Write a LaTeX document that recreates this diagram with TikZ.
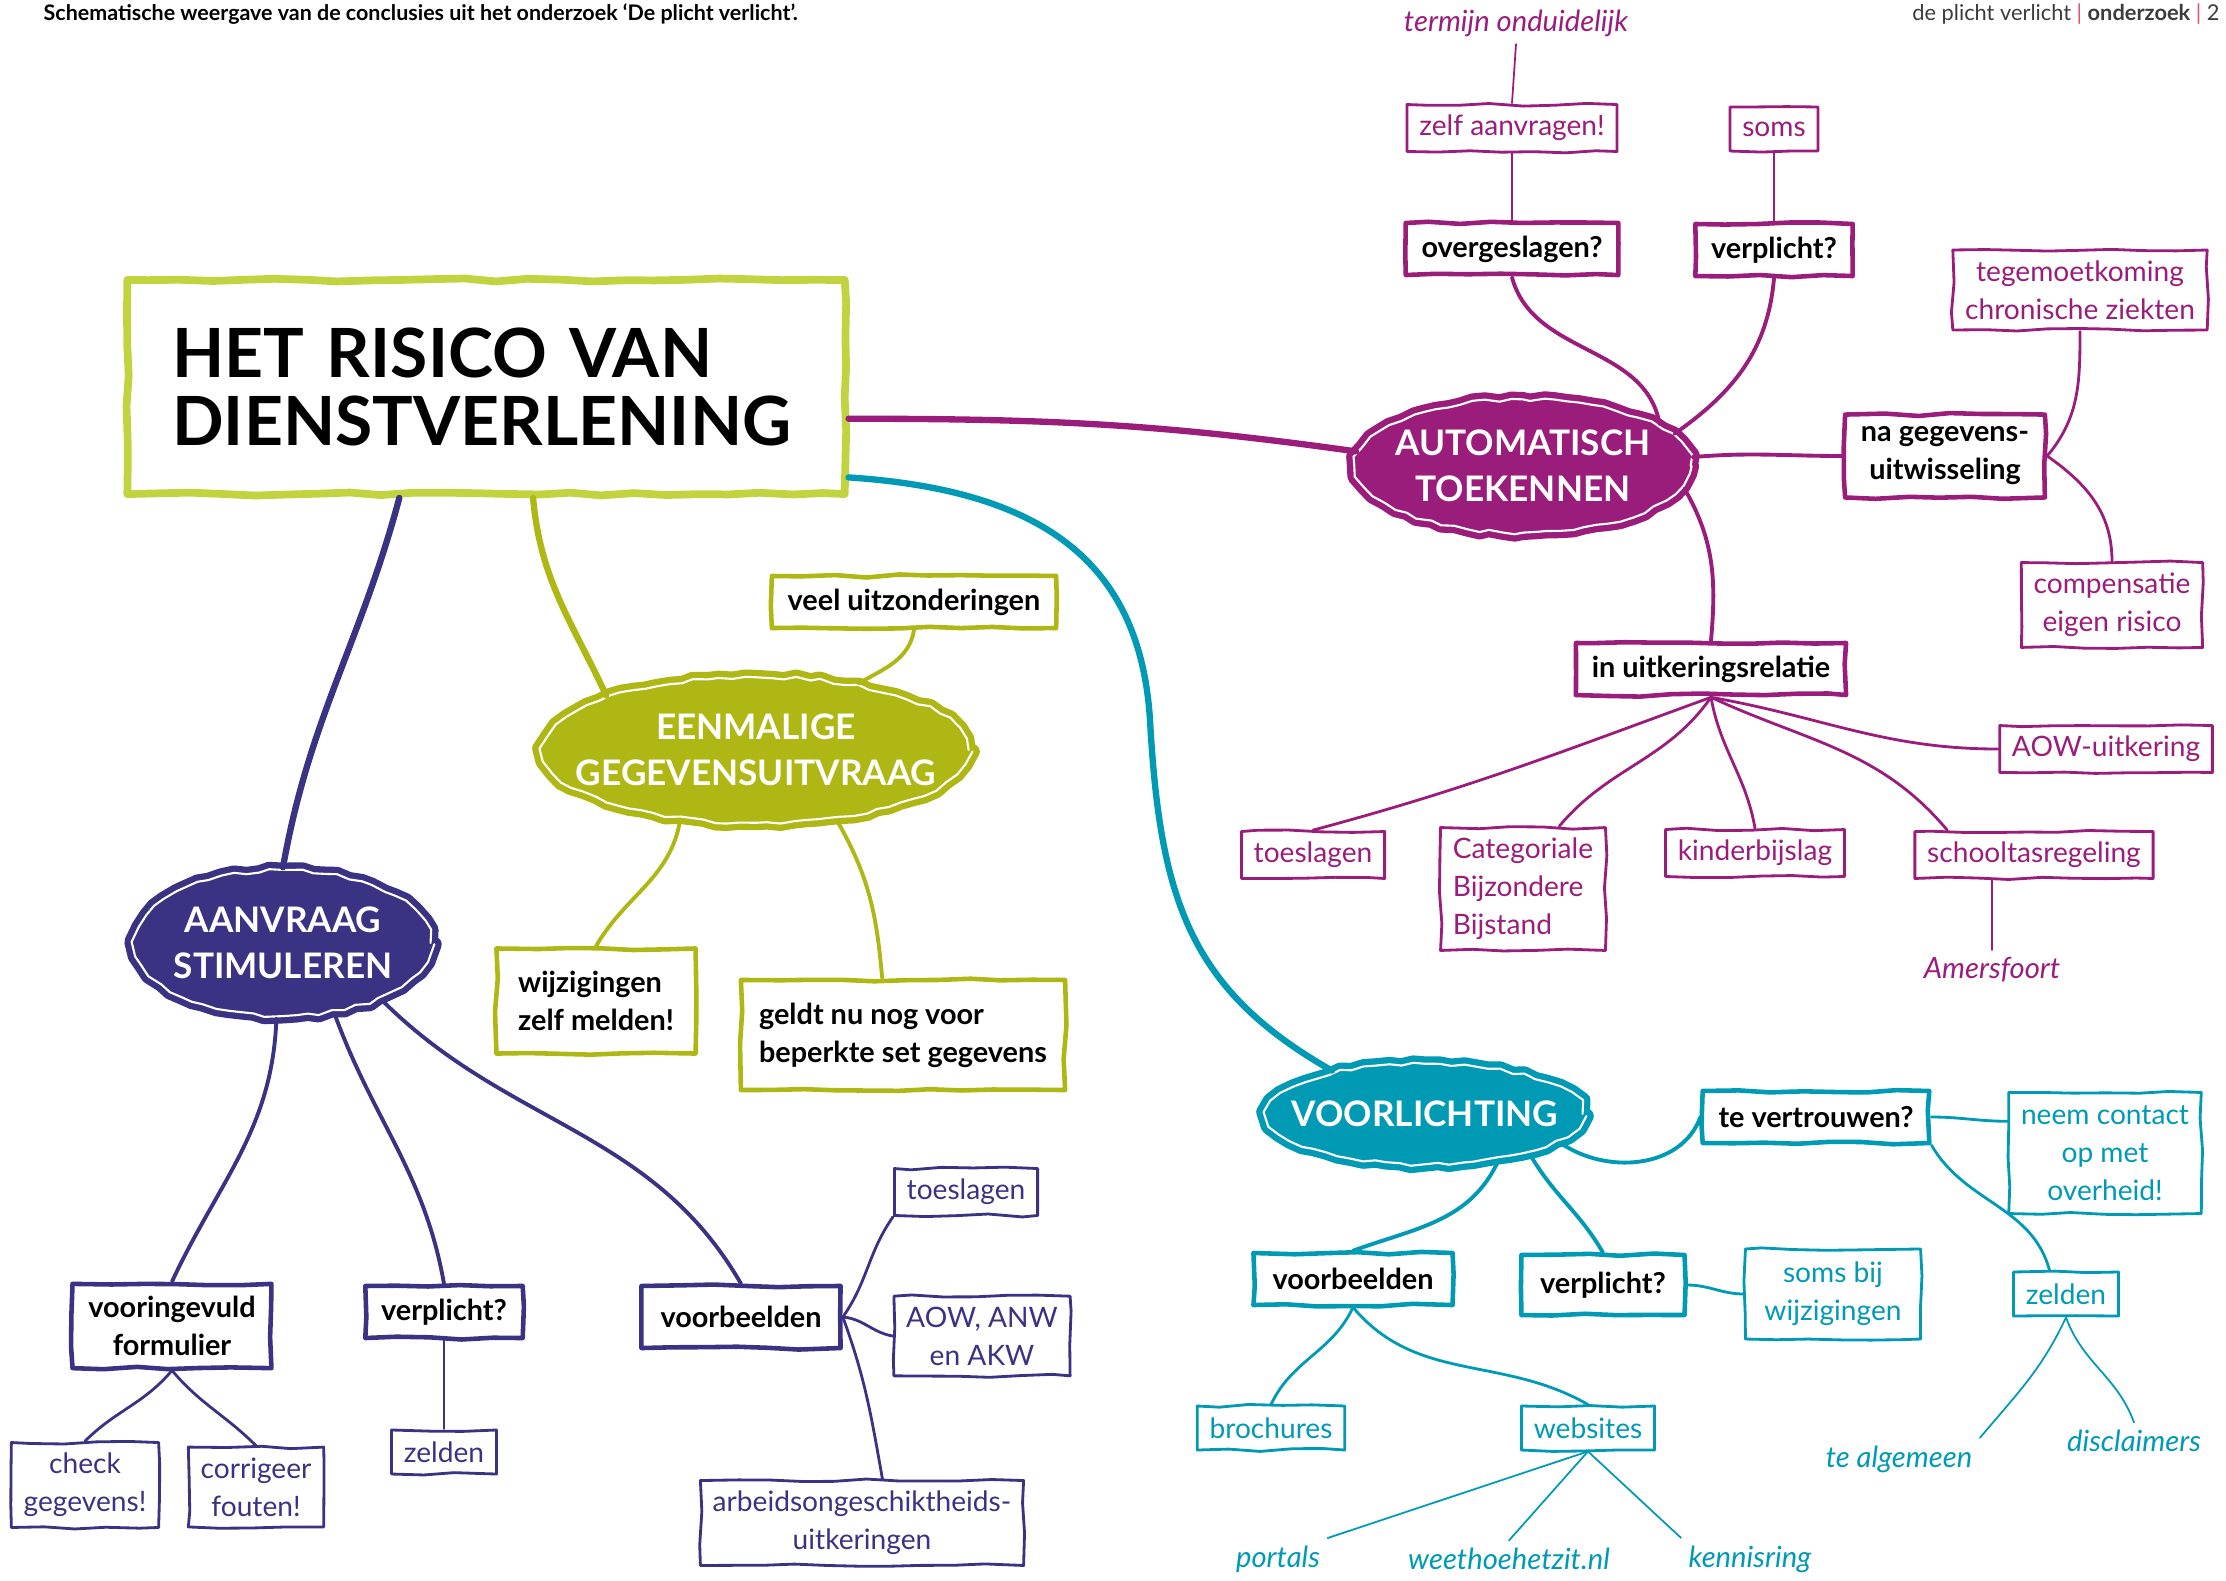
\documentclass[tikz,border=0pt]{standalone}
\usepackage{fontspec}
\setmainfont{Lato}
\usetikzlibrary{shapes.geometric, decorations.pathmorphing}

\definecolor{paars}{HTML}{9B1D7B}
\definecolor{olijf}{HTML}{AFB714}
\definecolor{limoen}{HTML}{C2D340}
\definecolor{inkt}{HTML}{3A3383}
\definecolor{petrol}{HTML}{009AB5}
\definecolor{rood}{HTML}{E0506A}
\definecolor{grijs}{HTML}{3C3C3C}

\pgfmathsetseed{12}

\begin{document}
\begin{tikzpicture}[x = 0.01 cm, y = 0.01 cm, line cap = round, line join = round,
	rough/.style = {decorate, decoration = {random steps, segment length = 9pt, amplitude = 0.45pt}},
	titlebox/.style = {draw = limoen, line width = 2.2pt, rough, text width = 6.27 cm, inner xsep = 0.45 cm, minimum height = 2.14 cm, align = left, font = \fontsize{19.3}{19.5}\selectfont\bfseries},
	blob/.style = {ellipse, fill = #1, draw = #1, line width = 1.8pt, double = white, double distance = 0.6pt, decorate, decoration = {random steps, segment length = 3.5pt, amplitude = 0.5pt}, text = white, align = center, inner sep = 0pt, font = \fontsize{10}{13}\selectfont\bfseries},
	keybox/.style = {draw = #1, line width = 1.3pt, rough, text = black, align = center, inner xsep = 4.5pt, inner ysep = 3.5pt, minimum height = 0.52 cm, font = \fontsize{8.2}{10.8}\selectfont\bfseries},
	leafbox/.style = {draw = #1, line width = 0.8pt, rough, text = #1, align = center, inner xsep = 3.5pt, inner ysep = 3pt, minimum height = 0.44 cm, font = \fontsize{8}{10.8}\selectfont},
	leaf/.style = {text = #1, inner sep = 2pt, font = \fontsize{8.3}{9}\selectfont\itshape},
	trunk/.style = {draw = #1, line width = 1.8pt},
	branch/.style = {draw = #1, line width = 1.1pt},
	twig/.style = {draw = #1, line width = 0.8pt},
	hair/.style = {draw = #1, line width = 0.5pt}]

	\useasboundingbox (0, 0) rectangle (2226, -1581);

	\node [anchor = west, inner sep = 0pt, text = black, font = \fontsize{6.1}{7}\selectfont\bfseries] (kop) at (43, -14) {Schematische weergave van de conclusies uit het onderzoek ‘De plicht verlicht’.};

	\node [anchor = east, text = grijs, font = \fontsize{6.2}{7}\selectfont] (voet) at (2232, -14) {de plicht verlicht {\color{rood}|} \textbf{onderzoek} {\color{rood}|} 2};

	\node [titlebox] (risico) at (486, -387) {HET RISICO VAN\\DIENSTVERLENING};

	\node [blob = paars, minimum width = 3.35 cm, minimum height = 1.33 cm] (auto) at (1523, -466) {\makebox[0pt]{AUTOMATISCH}\\\makebox[0pt]{TOEKENNEN}};
	\node [blob = olijf, minimum width = 4.25 cm, minimum height = 1.45 cm] (eenmalig) at (756, -750) {\makebox[0pt]{EENMALIGE}\\\makebox[0pt]{GEGEVENSUITVRAAG}};
	\node [blob = inkt, minimum width = 2.95 cm, minimum height = 1.45 cm] (aanvraag) at (283, -943) {\makebox[0pt]{AANVRAAG}\\\makebox[0pt]{STIMULEREN}};
	\node [blob = petrol, minimum width = 3.15 cm, minimum height = 1.0 cm] (voorlicht) at (1425, -1114) {\makebox[0pt]{VOORLICHTING}};

	\begin{scope}

		\node [leaf = paars] (termijn) at (1516, -23) {termijn onduidelijk};
		\node [leafbox = paars] (zelf) at (1512, -128) {zelf aanvragen!};
		\node [keybox = paars] (overgeslagen) at (1512, -249) {overgeslagen?};
		\node [leafbox = paars] (soms) at (1774, -129) {soms};
		\node [keybox = paars] (verplichtA) at (1774, -250) {verplicht?};
		\node [keybox = paars] (nagegevens) at (1945, -456) {na gegevens-\\uitwisseling};
		\node [leafbox = paars] (tegemoet) at (2080, -290) {tegemoetkoming\\chronische ziekten};
		\node [leafbox = paars] (compensatie) at (2112, -605) {compensatie\\eigen risico};
		\node [keybox = paars] (uitkering) at (1711, -669) {in uitkeringsrelatie};
		\node [leafbox = paars] (toeslagenA) at (1313, -855) {toeslagen};
		\node [leafbox = paars, align = left, minimum width = 1.63 cm] (categoriale) at (1523, -889) {Categoriale\\Bijzondere\\Bijstand};
		\node [leafbox = paars] (kinderbijslag) at (1755, -853) {kinderbijslag};
		\node [leafbox = paars] (schooltas) at (2034, -855) {schooltasregeling};
		\node [leafbox = paars] (aow) at (2106, -749) {AOW-uitkering};
		\node [leaf = paars] (amersfoort) at (1992, -970) {Amersfoort};

		\draw [trunk = paars] (risico.-5) to [out = 0, in = 172] (auto.175);
		\draw [hair = paars] (termijn.south) -- (zelf.north);
		\draw [twig = paars] (zelf.south) -- (overgeslagen.north);
		\draw [branch = paars] (overgeslagen.south) to [out = -75, in = 100] (auto.17);
		\draw [twig = paars] (soms.south) -- (verplichtA.north);
		\draw [branch = paars] (verplichtA.south) to [out = -95, in = 35] (auto.12);
		\draw [branch = paars] (auto.3) to [out = 5, in = 180] (nagegevens.west);
		\draw [twig = paars] (nagegevens.east) to [out = 50, in = -90] (tegemoet.south);
		\draw [twig = paars] (nagegevens.east) to [out = -35, in = 90] (compensatie.north);
		\draw [branch = paars] (auto.-8) to [out = -60, in = 85] (uitkering.north);
		\draw [twig = paars] (uitkering.south) to [out = -160, in = 15] (toeslagenA.north);
		\draw [twig = paars] (uitkering.south) to [out = -125, in = 50] (categoriale.60);
		\draw [twig = paars] (uitkering.south) to [out = -80, in = 100] (kinderbijslag.north);
		\draw [twig = paars] (uitkering.south) to [out = -25, in = 130] (schooltas.164);
		\draw [twig = paars] (uitkering.south) to [out = -10, in = 180] (aow.west);
		\draw [hair = paars] (amersfoort.north |- schooltas.south) -- (amersfoort.north);

	\end{scope}

	\begin{scope}

		\node [keybox = olijf] (veel) at (914, -602) {veel uitzonderingen};
		\node [keybox = olijf, align = left, minimum width = 1.99 cm, minimum height = 1.05 cm] (wijzigingen) at (596, -1001) {wijzigingen\\zelf melden!};
		\node [keybox = olijf, align = left, minimum width = 3.24 cm, minimum height = 1.1 cm] (geldt) at (903, -1035) {geldt nu nog voor\\beperkte set gegevens};

		\draw [trunk = olijf] (risico.-67) to [out = -85, in = 115] (eenmalig.160);
		\draw [branch = olijf] (veel.south) to [out = -100, in = 30] (eenmalig.33);
		\draw [branch = olijf] (eenmalig.-137) to [out = -100, in = 60] (wijzigingen.north);
		\draw [branch = olijf] (eenmalig.-41) to [out = -60, in = 95] (geldt.110);

	\end{scope}

	\begin{scope}

		\node [keybox = inkt, minimum width = 1.96 cm] (vooringevuld) at (172, -1326) {vooringevuld\\formulier};
		\node [keybox = inkt] (verplichtB) at (444, -1312) {verplicht?};
		\node [keybox = inkt, minimum width = 1.99 cm, minimum height = 0.62 cm] (voorbeeldenA) at (741, -1317) {voorbeelden};
		\node [leafbox = inkt] (check) at (85, -1485) {check\\gegevens!};
		\node [leafbox = inkt] (corrigeer) at (256, -1487) {corrigeer\\fouten!};
		\node [leafbox = inkt] (zeldenA) at (444, -1452) {zelden};
		\node [leafbox = inkt] (toeslagenB) at (966, -1192) {toeslagen};
		\node [leafbox = inkt] (aowB) at (982, -1336) {AOW, ANW\\en AKW};
		\node [leafbox = inkt] (arbeid) at (862, -1523) {arbeidsongeschiktheids-\\uitkeringen};

		\draw [trunk = inkt] (risico.-128) to [out = -105, in = 80] (aanvraag.north);
		\draw [branch = inkt] (aanvraag.-95) to [out = -92, in = 65] (vooringevuld.north);
		\draw [branch = inkt] (aanvraag.-54) to [out = -70, in = 100] (verplichtB.north);
		\draw [branch = inkt] (aanvraag.-30) to [out = -45, in = 120] (voorbeeldenA.north);
		\draw [twig = inkt] (vooringevuld.south) to [out = -130, in = 45] (check.north);
		\draw [twig = inkt] (vooringevuld.south) to [out = -50, in = 135] (corrigeer.north);
		\draw [twig = inkt] (verplichtB.south) -- (zeldenA.north);
		\draw [twig = inkt] (voorbeeldenA.east) to [out = 55, in = -125] (toeslagenB.south west);
		\draw [twig = inkt] (voorbeeldenA.east) to [out = -5, in = 170] (aowB.west);
		\draw [twig = inkt] (voorbeeldenA.east) to [out = -70, in = 100] (arbeid.65);

	\end{scope}

	\begin{scope}

		\node [keybox = petrol] (tevertrouwen) at (1816, -1117) {te vertrouwen?};
		\node [leafbox = petrol, minimum width = 1.92 cm, minimum height = 1.21 cm] (neem) at (2105, -1153) {neem contact\\op met\\overheid!};
		\node [leafbox = petrol] (zeldenB) at (2066, -1294) {zelden};
		\node [keybox = petrol, minimum width = 1.99 cm] (voorbeeldenB) at (1353, -1279) {voorbeelden};
		\node [keybox = petrol, minimum width = 1.63 cm, minimum height = 0.6 cm] (verplichtC) at (1603, -1285) {verplicht?};
		\node [leafbox = petrol, minimum width = 1.75 cm, minimum height = 0.9 cm] (somsbij) at (1833, -1294) {soms bij\\wijzigingen};
		\node [leafbox = petrol] (brochures) at (1271, -1428) {brochures};
		\node [leafbox = petrol] (websites) at (1588, -1428) {websites};
		\node [leaf = petrol] (algemeen) at (1899, -1459) {te algemeen};
		\node [leaf = petrol] (disclaimers) at (2134, -1441) {disclaimers};
		\node [leaf = petrol] (portals) at (1278, -1559) {portals};
		\node [leaf = petrol] (weethoe) at (1509, -1559) {weethoehetzit.nl};
		\node [leaf = petrol] (kennisring) at (1750, -1559) {kennisring};

		\draw [trunk = petrol] (risico.-14) .. controls (1040, -490) and (1140, -560) .. (1150, -720) .. controls (1160, -900) and (1190, -990) .. (voorlicht.155);
		\draw [branch = petrol] (voorlicht.-12) to [out = -35, in = -110] (tevertrouwen.west);
		\draw [twig = petrol] (tevertrouwen.east) to [out = 0, in = 180] (neem.162);
		\draw [twig = petrol] (tevertrouwen.south east) to [out = -60, in = 105] (zeldenB.125);
		\draw [hair = petrol] (zeldenB.south) to [out = -115, in = 50] (algemeen.north east);
		\draw [hair = petrol] (zeldenB.south) to [out = -70, in = 110] (disclaimers.north);
		\draw [branch = petrol] (voorlicht.-33) to [out = -115, in = 20] (voorbeeldenB.north);
		\draw [branch = petrol] (voorlicht.-21) to [out = -60, in = 120] (verplichtC.north);
		\draw [twig = petrol] (verplichtC.east) to [out = 0, in = 180] (somsbij.west);
		\draw [twig = petrol] (voorbeeldenB.south) to [out = -115, in = 65] (brochures.north);
		\draw [twig = petrol] (voorbeeldenB.south) to [out = -50, in = 150] (websites.north);
		\draw [hair = petrol] (websites.south) -- (portals.north east);
		\draw [hair = petrol] (websites.south) -- (weethoe.north);
		\draw [hair = petrol] (websites.south) -- (kennisring.north west);

	\end{scope}

\end{tikzpicture}
\end{document}
